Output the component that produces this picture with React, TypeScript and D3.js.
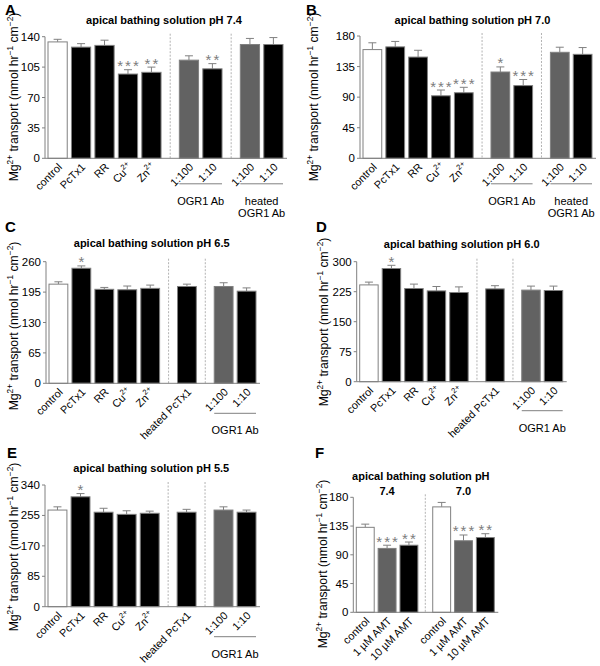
import React from "react";
import * as d3 from "d3";

const FONT = "'Liberation Sans', Arial, Helvetica, sans-serif";

// ---------- DATA ----------
const labelsA = ["control", "PcTx1", "RR", "Cu^2+", "Zn^2+", "1:100", "1:10", "1:100", "1:10"];
const valuesA = [134, 128, 130, 97, 99, 113, 103, 131, 131];
const semA = [3, 4, 6, 5, 6, 5, 6, 7, 8];
const sigA = ["", "", "", "***", "**", "", "**", "", ""];
const groupsA = [0, 0, 0, 0, 0, 1, 1, 2, 2];
const ticksA = [0, 35, 70, 105, 140];

const labelsB = ["control", "PcTx1", "RR", "Cu^2+", "Zn^2+", "1:100", "1:10", "1:100", "1:10"];
const valuesB = [160, 164, 149, 92, 96.5, 127, 107, 156, 153];
const semB = [10, 8, 10, 8.5, 8, 7.5, 9, 7.5, 10];
const sigB = ["", "", "", "***", "***", "*", "***", "", ""];
const groupsB = [0, 0, 0, 0, 0, 1, 1, 2, 2];
const ticksB = [0, 45, 90, 135, 180];

const labelsC = ["control", "PcTx1", "RR", "Cu^2+", "Zn^2+", "heated PcTx1", "1:100", "1:10"];
const valuesC = [212, 246, 201, 200, 203, 207, 207, 197];
const semC = [5, 5, 4, 8, 7, 5, 8, 7];
const sigC = ["", "*", "", "", "", "", "", ""];
const groupsC = [0, 0, 0, 0, 0, 1, 2, 2];
const ticksC = [0, 65, 130, 195, 260];

const labelsD = ["control", "PcTx1", "RR", "Cu^2+", "Zn^2+", "heated PcTx1", "1:100", "1:10"];
const valuesD = [242, 283, 233, 227, 223, 232, 229, 228];
const semD = [7, 8, 11, 11, 14, 8, 10, 11];
const sigD = ["", "*", "", "", "", "", "", ""];
const groupsD = [0, 0, 0, 0, 0, 1, 2, 2];
const ticksD = [0, 75, 150, 225, 300];

const labelsE = ["control", "PcTx1", "RR", "Cu^2+", "Zn^2+", "heated PcTx1", "1:100", "1:10"];
const valuesE = [270, 307, 264, 258, 261, 264, 270, 264];
const semE = [9, 9, 11, 10, 6, 8, 9, 6];
const sigE = ["", "*", "", "", "", "", "", ""];
const groupsE = [0, 0, 0, 0, 0, 1, 2, 2];
const ticksE = [0, 85, 170, 255, 340];

const labelsF = ["control", "1 \u00b5M AMT", "10 \u00b5M AMT", "control", "1 \u00b5M AMT", "10 \u00b5M AMT"];
const valuesF = [133, 100, 105, 165, 112, 117];
const semF = [5, 5, 5, 7, 9, 6];
const sigF = ["", "***", "**", "", "***", "**"];
const groupsF = [0, 0, 0, 1, 1, 1];
const ticksF = [0, 45, 90, 135, 180];
const groupHeadsF = ["7.4", "7.0"];

const titleA = "apical bathing solution pH 7.4";
const titleB = "apical bathing solution pH 7.0";
const titleC = "apical bathing solution pH 6.5";
const titleD = "apical bathing solution pH 6.0";
const titleE = "apical bathing solution pH 5.5";
const titleF = "apical bathing solution pH";

// ---------- STYLE ----------
const WHITE = "#ffffff";
const BLACK = "#000000";
const GREY = "#626262";
const EDGE = "#808080";
const STAR = "#7c7c7c";

const fillsAB = [WHITE, BLACK, BLACK, BLACK, BLACK, GREY, BLACK, GREY, BLACK];
const fillsCDE = [WHITE, BLACK, BLACK, BLACK, BLACK, BLACK, GREY, BLACK];
const fillsF = [WHITE, GREY, BLACK, WHITE, GREY, BLACK];

type GroupLabel = { group: number; lines: string[] };

type Cfg = {
  letter: string;
  lx: number;
  ly: number;
  title: string;
  tx: number;
  ty: number;
  labels: string[];
  values: number[];
  sem: number[];
  sig: string[];
  groups: number[];
  ticks: number[];
  fills: string[];
  x0: number;
  x1: number;
  yTop: number;
  yBase: number;
  gap: number;
  ylx: number;
  yly: number;
  groupLineY?: number;
  groupLabels?: GroupLabel[];
  heads?: string[];
  headY?: number;
};

const panels: Cfg[] = [
  {
    letter: "A", lx: 5, ly: 15, title: titleA, tx: 164, ty: 23.5,
    labels: labelsA, values: valuesA, sem: semA, sig: sigA, groups: groupsA, ticks: ticksA, fills: fillsAB,
    x0: 45, x1: 287, yTop: 36.7, yBase: 158.3, gap: 0.6, ylx: 18, yly: 97,
    groupLineY: 183.8,
    groupLabels: [{ group: 1, lines: ["OGR1 Ab"] }, { group: 2, lines: ["heated", "OGR1 Ab"] }],
  },
  {
    letter: "B", lx: 306, ly: 15, title: titleB, tx: 472.5, ty: 23.5,
    labels: labelsB, values: valuesB, sem: semB, sig: sigB, groups: groupsB, ticks: ticksB, fills: fillsAB,
    x0: 360, x1: 596, yTop: 36, yBase: 158.3, gap: 0.6, ylx: 318, yly: 97,
    groupLineY: 183.8,
    groupLabels: [{ group: 1, lines: ["OGR1 Ab"] }, { group: 2, lines: ["heated", "OGR1 Ab"] }],
  },
  {
    letter: "C", lx: 5, ly: 232, title: titleC, tx: 151.7, ty: 247.3,
    labels: labelsC, values: valuesC, sem: semC, sig: sigC, groups: groupsC, ticks: ticksC, fills: fillsCDE,
    x0: 46, x1: 260, yTop: 261.7, yBase: 383.3, gap: 0.6, ylx: 18, yly: 326,
    groupLineY: 413.3,
    groupLabels: [{ group: 2, lines: ["OGR1 Ab"] }],
  },
  {
    letter: "D", lx: 316, ly: 232, title: titleD, tx: 461.7, ty: 247.7,
    labels: labelsD, values: valuesD, sem: semD, sig: sigD, groups: groupsD, ticks: ticksD, fills: fillsCDE,
    x0: 356.7, x1: 566.7, yTop: 261.7, yBase: 381.7, gap: 0.6, ylx: 328, yly: 322,
    groupLineY: 410.7,
    groupLabels: [{ group: 2, lines: ["OGR1 Ab"] }],
  },
  {
    letter: "E", lx: 7, ly: 458, title: titleE, tx: 151.3, ty: 471.7,
    labels: labelsE, values: valuesE, sem: semE, sig: sigE, groups: groupsE, ticks: ticksE, fills: fillsCDE,
    x0: 45, x1: 260, yTop: 485, yBase: 606.7, gap: 0.6, ylx: 18, yly: 547,
    groupLineY: 636.7,
    groupLabels: [{ group: 2, lines: ["OGR1 Ab"] }],
  },
  {
    letter: "F", lx: 315, ly: 458, title: titleF, tx: 420.8, ty: 480,
    labels: labelsF, values: valuesF, sem: semF, sig: sigF, groups: groupsF, ticks: ticksF, fills: fillsF,
    x0: 353.3, x1: 498.3, yTop: 497.3, yBase: 612.3, gap: 0.5, ylx: 327, yly: 564,
    heads: groupHeadsF, headY: 495,
  },
];

function SupText({ s }: { s: string }) {
  const parts = s.split("^");
  if (parts.length === 1) return <>{s}</>;
  return (
    <>
      {parts[0]}
      <tspan fontSize={7.5} dy={-5}>{parts[1]}</tspan>
    </>
  );
}

function Panel({ c }: { c: Cfg }) {
  const max = c.ticks[c.ticks.length - 1];
  const y = d3.scaleLinear().domain([0, max]).range([c.yBase, c.yTop]);
  const slots = c.groups.map((g, i) => i + g * c.gap);
  const frac = 0.82;
  const last = slots[slots.length - 1];
  const x = d3.scaleLinear().domain([0, last + frac]).range([c.x0 + 3, c.x1 - 4]);
  const bw = x(frac) - x(0);
  const nGroups = d3.max(c.groups)! + 1;
  const groupExtent = d3.range(nGroups).map((g) => {
    const idx = c.groups.map((gg, i) => (gg === g ? i : -1)).filter((i) => i >= 0);
    return [x(slots[idx[0]]), x(slots[idx[idx.length - 1]]) + bw];
  });
  const dividers = d3.range(nGroups - 1).map((g) => (groupExtent[g][1] + groupExtent[g + 1][0]) / 2);

  return (
    <g fontFamily={FONT}>
      <text x={c.lx} y={c.ly} fontSize={15} fontWeight="bold">{c.letter}</text>
      <text x={c.tx} y={c.ty} fontSize={11} fontWeight="bold" textAnchor="middle">{c.title}</text>
      {c.heads && c.heads.map((h, g) => (
        <text key={"h" + g} x={(groupExtent[g][0] + groupExtent[g][1]) / 2} y={c.headY} fontSize={11} fontWeight="bold" textAnchor="middle">{h}</text>
      ))}
      {/* y label */}
      <text transform={`translate(${c.ylx},${c.yly}) rotate(-90)`} fontSize={12.2} textAnchor="middle">
        Mg<tspan fontSize={8.3} dy={-5.5}>2+</tspan>
        <tspan dy={5.5}> transport (nmol hr</tspan>
        <tspan fontSize={8.3} dy={-5.5}>{"\u22121"}</tspan>
        <tspan dy={5.5}> cm</tspan>
        <tspan fontSize={8.3} dy={-5.5}>{"\u22122"}</tspan>
        <tspan dy={5.5}>)</tspan>
      </text>
      {/* dividers */}
      {dividers.map((dx, i) => (
        <line key={"d" + i} x1={dx} x2={dx} y1={c.yTop - 3} y2={c.yBase} stroke="#a0a0a0" strokeWidth={0.8} strokeDasharray="2,1.5" />
      ))}
      {/* bars */}
      {c.values.map((v, i) => {
        const bx = x(slots[i]);
        const cx = bx + bw / 2;
        const top = y(v + c.sem[i]);
        return (
          <g key={"b" + i}>
            <line x1={cx} x2={cx} y1={y(v)} y2={top} stroke={EDGE} strokeWidth={1} />
            <line x1={cx - 4} x2={cx + 4} y1={top} y2={top} stroke={EDGE} strokeWidth={1} />
            <rect x={bx} y={y(v)} width={bw} height={c.yBase - y(v)} fill={c.fills[i]} stroke={EDGE} strokeWidth={1} />
            {c.sig[i] && (
              <text x={cx + 1} y={top + 1.5} fontSize={15} fill={STAR} textAnchor="middle" letterSpacing={2}>{c.sig[i]}</text>
            )}
            <text transform={`translate(${cx + 5},${c.yBase + 9.5}) rotate(-45)`} fontSize={10.8} textAnchor="end">
              <SupText s={c.labels[i]} />
            </text>
          </g>
        );
      })}
      {/* axes */}
      <line x1={c.x0} x2={c.x0} y1={c.yTop} y2={c.yBase} stroke={EDGE} strokeWidth={1} />
      <line x1={c.x0} x2={c.x1} y1={c.yBase} y2={c.yBase} stroke={EDGE} strokeWidth={1} />
      {c.ticks.map((t) => (
        <g key={"t" + t}>
          <line x1={c.x0 - 3} x2={c.x0} y1={y(t)} y2={y(t)} stroke={EDGE} strokeWidth={1} />
          <text x={c.x0 - 5} y={y(t)} dy="0.35em" fontSize={11.5} textAnchor="end">{t}</text>
        </g>
      ))}
      {/* group labels */}
      {c.groupLabels && c.groupLabels.map((gl) => {
        const [a, b] = groupExtent[gl.group];
        return (
          <g key={"gl" + gl.group}>
            <line x1={a} x2={b} y1={c.groupLineY} y2={c.groupLineY} stroke={EDGE} strokeWidth={1} />
            {gl.lines.map((ln, k) => (
              <text key={k} x={(a + b) / 2} y={c.groupLineY! + 21 + k * 12.5} fontSize={11} textAnchor="middle">{ln}</text>
            ))}
          </g>
        );
      })}
    </g>
  );
}

export default function App() {
  return (
    <svg width={600} height={666} style={{ display: "block", position: "absolute", left: 0, top: 0, background: "#fff" }}>
      <rect width={600} height={666} fill="#fff" />
      {panels.map((p) => (
        <Panel key={p.letter} c={p} />
      ))}
    </svg>
  );
}
